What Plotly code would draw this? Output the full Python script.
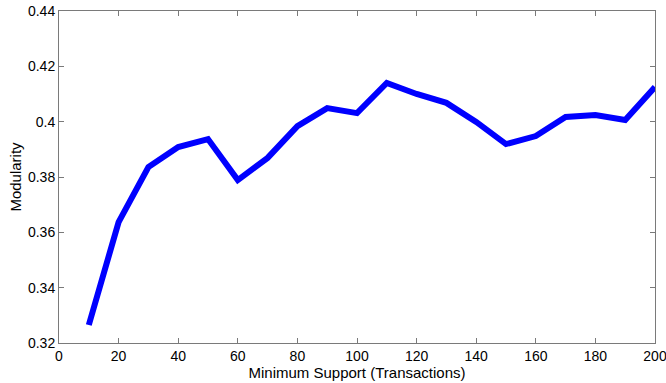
import plotly.graph_objects as go

min_support = [10, 20, 30, 40, 50, 60, 70, 80, 90, 100, 110, 120, 130, 140, 150, 160, 170, 180, 190, 200]
modularity = [0.3265, 0.3637, 0.3836, 0.3908, 0.3937, 0.3789, 0.3869, 0.3984, 0.4049, 0.4031,
              0.4140, 0.4100, 0.4068, 0.3999, 0.3919, 0.3948, 0.4017, 0.4024, 0.4006, 0.4125]

x_ticks = [0, 20, 40, 60, 80, 100, 120, 140, 160, 180, 200]
y_ticks = [0.32, 0.34, 0.36, 0.38, 0.40, 0.42, 0.44]
y_tick_text = ["0.32", "0.34", "0.36", "0.38", "0.4", "0.42", "0.44"]

fig = go.Figure()
fig.add_trace(go.Scatter(x=min_support, y=modularity, mode="lines",
                         line=dict(color="#0000ff", width=6)))

axis_common = dict(showgrid=False, zeroline=False, showline=True, mirror="ticks",
                   linecolor="#7a7a7a", linewidth=1, ticks="inside", ticklen=5,
                   tickcolor="#7a7a7a", automargin=False, ticklabeloverflow="allow",
                   tickfont=dict(family="Liberation Sans, Arial", size=14, color="#000"))

fig.update_layout(
    width=666, height=383,
    margin=dict(l=59, r=11, t=11, b=40),
    paper_bgcolor="white", plot_bgcolor="white",
    showlegend=False,
    font=dict(family="Liberation Sans, Arial", size=14, color="#000"),
    xaxis=dict(range=[0, 200], tickvals=x_ticks,
               title=dict(text="Minimum Support (Transactions)", standoff=0,
                          font=dict(size=15)), **axis_common),
    yaxis=dict(range=[0.32, 0.44], tickvals=y_ticks, ticktext=y_tick_text,
               title=dict(text="Modularity", standoff=2, font=dict(size=15)),
               **axis_common),
)

fig.write_html("out.html", config={"displayModeBar": False, "staticPlot": True},
               post_script="document.body.style.margin='0';")
